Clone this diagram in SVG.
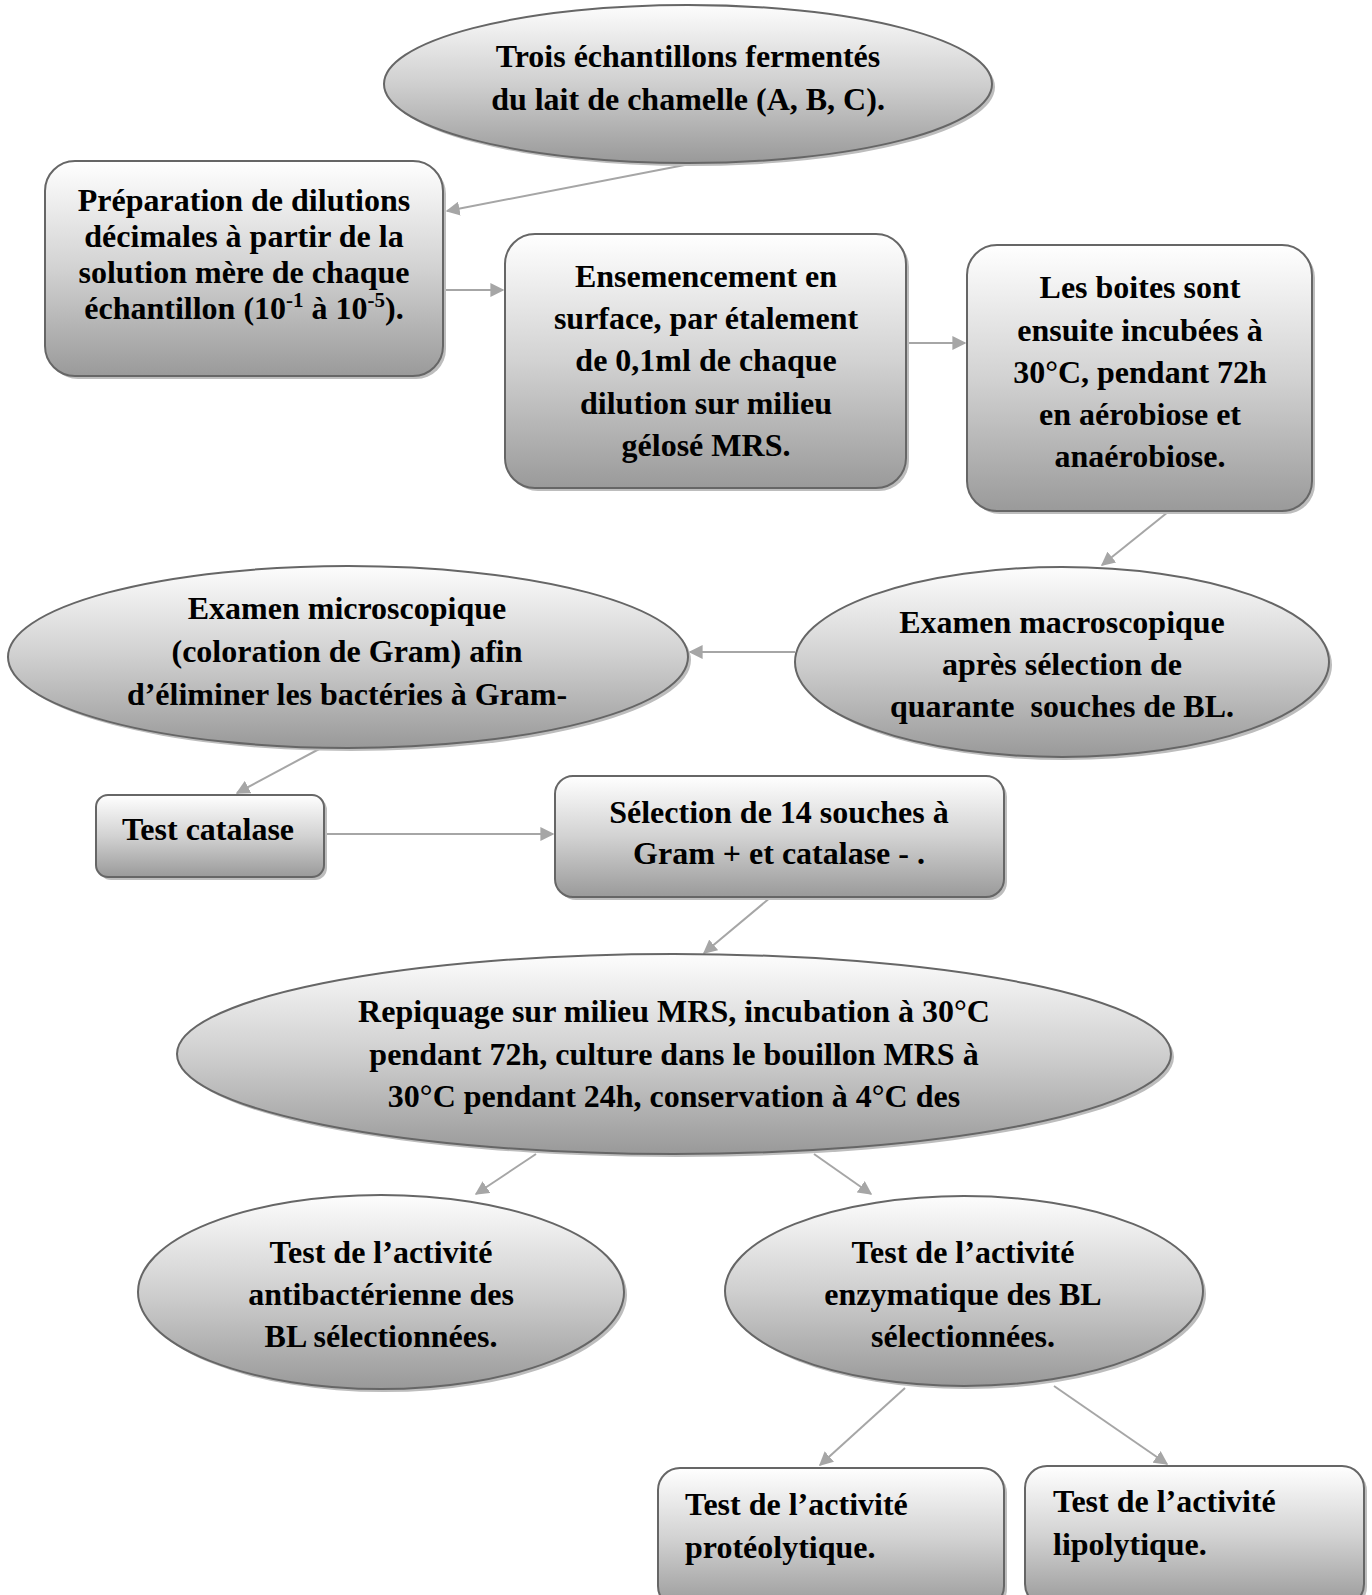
<svg xmlns="http://www.w3.org/2000/svg" width="1372" height="1595" viewBox="0 0 1372 1595">
<style>
.s{stroke:#666;stroke-width:2;fill:url(#g)}
.e{stroke:#666;stroke-width:2;fill:url(#ge)}
.sh{fill:#bdbdbd;stroke:none}
.t{font-family:"Liberation Serif","Times New Roman",serif;font-weight:bold;font-size:32px;fill:#000;text-anchor:middle}
.l{text-anchor:start}
.c{stroke:#a6a6a6;stroke-width:2;fill:none;marker-end:url(#ah)}
</style>
<defs>
<linearGradient id="g" x1="0" y1="0" x2="0" y2="1">
<stop offset="0" stop-color="#ffffff"/>
<stop offset="0.5" stop-color="#d2d2d2"/>
<stop offset="1" stop-color="#9a9a9a"/>
</linearGradient>
<linearGradient id="ge" x1="0" y1="0" x2="0" y2="1">
<stop offset="0" stop-color="#fdfdfd"/>
<stop offset="0.5" stop-color="#cfcfcf"/>
<stop offset="1" stop-color="#999"/>
</linearGradient>
<marker id="ah" viewBox="0 0 10 10" refX="9" refY="5" markerWidth="7" markerHeight="7" markerUnits="strokeWidth" orient="auto">
<path d="M0,0 L10,5 L0,10 z" fill="#a6a6a6"/>
</marker>
</defs>

<g id="connectors">
<line class="c" x1="695" y1="163" x2="447" y2="211"/>
<line class="c" x1="443" y1="290" x2="503" y2="290"/>
<line class="c" x1="906" y1="343" x2="965" y2="343"/>
<line class="c" x1="1168" y1="512" x2="1102" y2="565"/>
<line class="c" x1="795" y1="652" x2="690" y2="652"/>
<line class="c" x1="321" y1="748" x2="237" y2="793"/>
<line class="c" x1="324" y1="834" x2="553" y2="834"/>
<line class="c" x1="771" y1="897" x2="704" y2="953"/>
<line class="c" x1="536" y1="1154" x2="476" y2="1194"/>
<line class="c" x1="814" y1="1154" x2="871" y2="1194"/>
<line class="c" x1="905" y1="1388" x2="820" y2="1465"/>
<line class="c" x1="1054" y1="1386" x2="1167" y2="1464"/>
</g>

<g id="n1">
<ellipse class="sh" cx="691" cy="87" rx="304" ry="79"/>
<ellipse class="e" cx="688" cy="84" rx="304" ry="79"/>
<text class="t" x="688" y="67">Trois échantillons fermentés</text>
<text class="t" x="688" y="110">du lait de chamelle (A, B, C).</text>
</g>

<g id="n2">
<rect class="sh" x="48" y="164" width="398" height="215" rx="30"/>
<rect class="s" x="45" y="161" width="398" height="215" rx="30"/>
<text class="t" x="244" y="211">Préparation de dilutions</text>
<text class="t" x="244" y="247">décimales à partir de la</text>
<text class="t" x="244" y="283">solution mère de chaque</text>
<text class="t" x="244" y="319">échantillon (10<tspan font-size="21" dy="-12">-1</tspan><tspan dy="12"> à 10</tspan><tspan font-size="21" dy="-12">-5</tspan><tspan dy="12">).</tspan></text>
</g>

<g id="n3">
<rect class="sh" x="508" y="237" width="401" height="254" rx="30"/>
<rect class="s" x="505" y="234" width="401" height="254" rx="30"/>
<text class="t" x="706" y="287">Ensemencement en</text>
<text class="t" x="706" y="329">surface, par étalement</text>
<text class="t" x="706" y="371">de 0,1ml de chaque</text>
<text class="t" x="706" y="414">dilution sur milieu</text>
<text class="t" x="706" y="456">gélosé MRS.</text>
</g>

<g id="n4">
<rect class="sh" x="970" y="248" width="345" height="266" rx="30"/>
<rect class="s" x="967" y="245" width="345" height="266" rx="30"/>
<text class="t" x="1140" y="298">Les boites sont</text>
<text class="t" x="1140" y="341">ensuite incubées à</text>
<text class="t" x="1140" y="383">30°C, pendant 72h</text>
<text class="t" x="1140" y="425">en aérobiose et</text>
<text class="t" x="1140" y="467">anaérobiose.</text>
</g>

<g id="n5">
<ellipse class="sh" cx="1065" cy="665" rx="267" ry="95"/>
<ellipse class="e" cx="1062" cy="662" rx="267" ry="95"/>
<text class="t" x="1062" y="633">Examen macroscopique</text>
<text class="t" x="1062" y="675">après sélection de</text>
<text class="t" x="1062" y="717" xml:space="preserve">quarante  souches de BL.</text>
</g>

<g id="n6">
<ellipse class="sh" cx="351" cy="660" rx="340" ry="91"/>
<ellipse class="e" cx="348" cy="657" rx="340" ry="91"/>
<text class="t" x="347" y="619">Examen microscopique</text>
<text class="t" x="347" y="662">(coloration de Gram) afin</text>
<text class="t" x="347" y="705">d’éliminer les bactéries à Gram-</text>
</g>

<g id="n7">
<rect class="sh" x="99" y="798" width="228" height="82" rx="12"/>
<rect class="s" x="96" y="795" width="228" height="82" rx="12"/>
<text class="t" x="208" y="840">Test catalase</text>
</g>

<g id="n8">
<rect class="sh" x="558" y="779" width="449" height="121" rx="18"/>
<rect class="s" x="555" y="776" width="449" height="121" rx="18"/>
<text class="t" x="779" y="823">Sélection de 14 souches à</text>
<text class="t" x="779" y="864">Gram + et catalase - .</text>
</g>

<g id="n9">
<ellipse class="sh" cx="677" cy="1057" rx="497" ry="100"/>
<ellipse class="e" cx="674" cy="1054" rx="497" ry="100"/>
<text class="t" x="674" y="1022">Repiquage sur milieu MRS, incubation à 30°C</text>
<text class="t" x="674" y="1065">pendant 72h, culture dans le bouillon MRS à</text>
<text class="t" x="674" y="1107">30°C pendant 24h, conservation à 4°C des</text>
</g>

<g id="n10">
<ellipse class="sh" cx="384" cy="1295" rx="243" ry="97"/>
<ellipse class="e" cx="381" cy="1292" rx="243" ry="97"/>
<text class="t" x="381" y="1263">Test de l’activité</text>
<text class="t" x="381" y="1305">antibactérienne des</text>
<text class="t" x="381" y="1347">BL sélectionnées.</text>
</g>

<g id="n11">
<ellipse class="sh" cx="967" cy="1294" rx="239" ry="95"/>
<ellipse class="e" cx="964" cy="1291" rx="239" ry="95"/>
<text class="t" x="963" y="1263">Test de l’activité</text>
<text class="t" x="963" y="1305">enzymatique des BL</text>
<text class="t" x="963" y="1347">sélectionnées.</text>
</g>

<g id="n12">
<rect class="sh" x="661" y="1471" width="346" height="140" rx="22"/>
<rect class="s" x="658" y="1468" width="346" height="140" rx="22"/>
<text class="t l" x="685" y="1515">Test de l’activité</text>
<text class="t l" x="685" y="1558">protéolytique.</text>
</g>

<g id="n13">
<rect class="sh" x="1028" y="1469" width="339" height="140" rx="22"/>
<rect class="s" x="1025" y="1466" width="339" height="140" rx="22"/>
<text class="t l" x="1053" y="1512">Test de l’activité</text>
<text class="t l" x="1053" y="1555">lipolytique.</text>
</g>
</svg>
